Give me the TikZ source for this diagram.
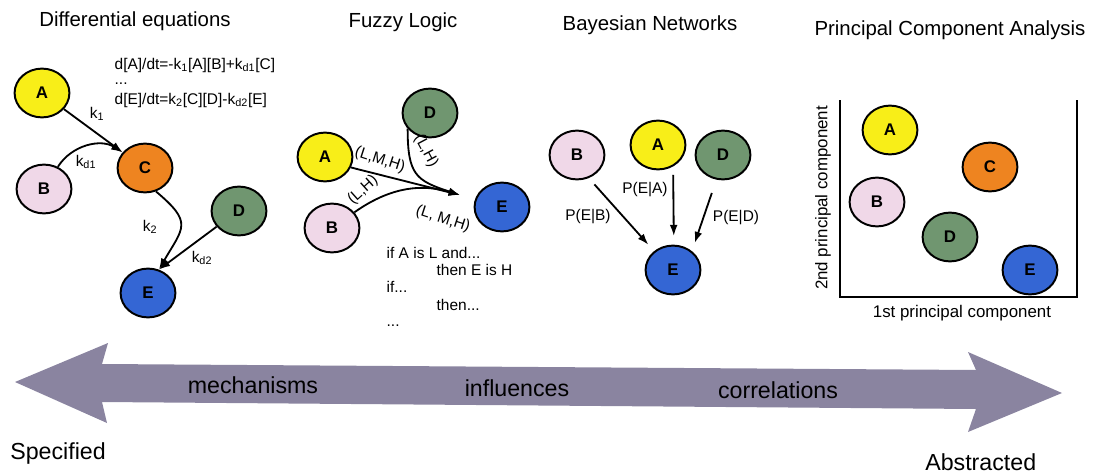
\documentclass[tikz,border=0pt]{standalone}
\usepackage{fontspec}
\setmainfont{Liberation Sans}
\usetikzlibrary{arrows.meta, shapes.geometric, positioning}

\definecolor{molA}{RGB}{248,238,24}
\definecolor{molB}{RGB}{240,216,232}
\definecolor{molC}{RGB}{238,132,32}
\definecolor{molD}{RGB}{112,150,112}
\definecolor{molE}{RGB}{52,102,212}
\definecolor{bandgray}{RGB}{138,132,160}

\begin{document}
\begin{tikzpicture}[
    x=0.025cm, y=-0.025cm,
    mol/.style={ellipse, draw, line width=1.4pt, minimum width=1.37cm, minimum height=1.22cm, inner sep=0pt, font=\fontsize{12}{14}\selectfont\bfseries},
    react/.style={-{Latex[length=8pt,width=5.5pt]}, line width=1.3pt},
    bayes/.style={react, shorten <=6pt, shorten >=6pt},
    heading/.style={font=\fontsize{14.5}{17}\selectfont},
    lbl/.style={font=\fontsize{11}{13}\selectfont, inner sep=1pt},
    axislbl/.style={font=\fontsize{12}{14}\selectfont, inner sep=1pt},
    band/.style={font=\fontsize{16.5}{19}\selectfont, anchor=base, inner sep=0pt}
]
\useasboundingbox (0,0) rectangle (1094,474);

% differential equations
\node[heading] (deqT) at (135,21) {Differential equations};
\node[mol, fill=molA] (deqA) at (42,93) {A};
\node[mol, fill=molB] (deqB) at (44,189) {B};
\node[mol, fill=molC] (deqC) at (145,168) {C};
\node[mol, fill=molD] (deqD) at (239,211) {D};
\node[mol, fill=molE] (deqE) at (148,293) {E};
\node[lbl, anchor=base west] (eqA) at (113,69) {d[A]/dt=-k\textsubscript{1}[A][B]+k\textsubscript{d1}[C]};
\node[lbl, anchor=base west] (eqDots) at (113,84) {...};
\node[lbl, anchor=base west] (eqE) at (113,104) {d[E]/dt=k\textsubscript{2}[C][D]-k\textsubscript{d2}[E]};
\draw[react] (deqA) -- (deqC.145);
\draw[react] (deqB.58) to[bend left=45] (deqC.145);
\draw[react] (deqC.-65) to[out=-40, in=60, looseness=1.6] (deqE.65);
\draw[react] (deqD.215) -- (deqE.65);
\node[lbl] (k1) at (97,114) {k\textsubscript{1}};
\node[lbl] (kd1) at (86,162) {k\textsubscript{d1}};
\node[lbl] (k2) at (150,227) {k\textsubscript{2}};
\node[lbl] (kd2) at (202,258) {k\textsubscript{d2}};

% fuzzy logic
\node[heading] (fuzT) at (403,22) {Fuzzy Logic};
\node[mol, fill=molD] (fuzD) at (430,113) {D};
\node[mol, fill=molA] (fuzA) at (325,157) {A};
\node[mol, fill=molB] (fuzB) at (332,228) {B};
\node[mol, fill=molE] (fuzE) at (502,207) {E};
\coordinate (fuzIn) at (460,195);
\draw[react] (fuzA.-22) -- (fuzIn);
\draw[react] (fuzB.35) to[bend left=26] (fuzIn);
\draw[react] (fuzD.215) to[out=-90, in=162, looseness=1.4] (fuzIn);
\node[lbl, rotate=-18] (lmhA) at (380,160) {(L,M,H)};
\node[lbl, rotate=42] (lhB) at (363,190) {(L,H)};
\node[lbl, rotate=-62] (lhD) at (426,151) {(L,H)};
\node[lbl, rotate=-18] (lmhE) at (443,219) {(L, M,H)};
\node[lbl, anchor=base west] (rule1) at (385,258) {if A is L and...};
\node[lbl, anchor=base west] (rule2) at (435,275) {then E is H};
\node[lbl, anchor=base west] (rule3) at (385,292) {if...};
\node[lbl, anchor=base west] (rule4) at (435,310) {then...};
\node[lbl, anchor=base west] (rule5) at (385,326) {...};

% bayesian networks
\node[heading] (bayT) at (650,25) {Bayesian Networks};
\node[mol, fill=molB] (bayB) at (577,155) {B};
\node[mol, fill=molA] (bayA) at (658,145) {A};
\node[mol, fill=molD] (bayD) at (723,155) {D};
\node[mol, fill=molE] (bayE) at (673,270) {E};
\draw[bayes] (bayB.-63) -- (bayE.135);
\draw[bayes] (bayA.-55) -- (bayE.88);
\draw[bayes, shorten <=10pt] (bayD.-105) -- (bayE.45);
\node[lbl] (pEB) at (588,217) {P(E|B)};
\node[lbl] (pEA) at (645,190) {P(E|A)};
\node[lbl] (pED) at (736,218) {P(E|D)};

% principal component analysis
\node[heading] (pcaT) at (950,30) {Principal Component Analysis};
\draw[line width=1.3pt] (840,100) -- (840,297) -- (1077,297) -- (1077,100);
\node[mol, fill=molA] (pcaA) at (890,130) {A};
\node[mol, fill=molC] (pcaC) at (990,167) {C};
\node[mol, fill=molB] (pcaB) at (877,202) {B};
\node[mol, fill=molD] (pcaD) at (950,237) {D};
\node[mol, fill=molE] (pcaE) at (1030,270) {E};
\node[axislbl, rotate=90] (pc2) at (823,198) {2nd principal component};
\node[axislbl] (pc1) at (962,313) {1st principal component};

% scale from specified to abstracted
\fill[bandgray] (15,382) -- (108,343) -- (102,364) -- (976,370) -- (968,352) -- (1062,393)
  -- (968,432) -- (976,409) -- (102,402) -- (107,423) -- cycle;
\node[band] (mech) at (253,393) {mechanisms};
\node[band] (infl) at (517,396) {influences};
\node[band] (corr) at (778,398) {correlations};
\node[band, anchor=base west] (spec) at (10,459) {Specified};
\node[band, anchor=base west] (abst) at (925,470) {Abstracted};
\end{tikzpicture}
\end{document}
